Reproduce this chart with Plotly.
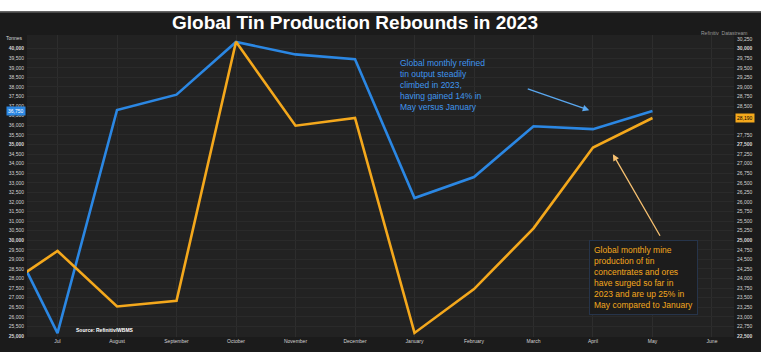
import plotly.graph_objects as go

# ---- data ----
months = ["Jun 2022", "Jul", "August", "September", "October", "November", "December",
          "January", "February", "March", "April", "May"]
tick_labels = ["Jul", "August", "September", "October", "November", "December",
               "January", "February", "March", "April", "May", "June"]
refined_output = [31400, 25150, 36800, 37600, 40350, 39700, 39450,
                  32200, 33300, 35950, 35800, 36750]
mine_output = [23670, 24720, 23270, 23420, 30180, 27990, 28190,
               22580, 23725, 25310, 27420, 28190]

W, H = 761, 352
L, R, T, B = 27, 745, 35, 344


def xp(px):
    return (px - L) / (R - L)


def yp(py):
    return (B - py) / (B - T)


x_idx = list(range(len(months)))
blue = "#2b87e3"
orange = "#f4a81c"

fig = go.Figure()
fig.add_trace(go.Scatter(x=x_idx, y=refined_output, mode="lines",
                         line=dict(color=blue, width=2.6), yaxis="y",
                         hoverinfo="skip", showlegend=False))
fig.add_trace(go.Scatter(x=x_idx, y=mine_output, mode="lines",
                         line=dict(color=orange, width=2.6), yaxis="y2",
                         hoverinfo="skip", showlegend=False))

left_vals = [v for v in range(25000, 40500, 500) if abs(v - refined_output[-1]) > 200]
left_text = [("<b>%s</b>" % f"{v:,}") if v % 5000 == 0 else f"{v:,}" for v in left_vals]
right_vals = [v for v in range(22500, 30500, 250) if abs(v - mine_output[-1]) > 200]
right_text = [("<b>%s</b>" % f"{v:,}") if v % 2500 == 0 else f"{v:,}" for v in right_vals]

tickfont = dict(family="Liberation Sans, Arial", size=5, color="#d4d4d4")

fig.update_layout(
    width=W, height=H, autosize=False,
    margin=dict(l=L, r=W - R, t=T, b=H - B, pad=0),
    paper_bgcolor="#1b1b1b",
    plot_bgcolor="#222222",
    xaxis=dict(range=[0.487, 12.37], tickvals=list(range(1, 13)), ticktext=tick_labels,
               tickfont=tickfont, showgrid=True, gridcolor="#2d2d2d", gridwidth=1,
               zeroline=False, showline=False, ticks="", ticklabelstandoff=0),
    yaxis=dict(range=[24949, 40714], tickvals=left_vals, ticktext=left_text,
               tickfont=tickfont, showgrid=True, gridcolor="#2a2a2a", gridwidth=1,
               zeroline=False, ticks="", ticklabelstandoff=2),
    yaxis2=dict(range=[22474, 30357], tickvals=right_vals, ticktext=right_text,
                tickfont=tickfont, overlaying="y", side="right", showgrid=False,
                zeroline=False, ticks="", ticklabelstandoff=2),
    shapes=[
        dict(type="rect", xref="paper", yref="paper", x0=-0.1, x1=1.1,
             y0=yp(11), y1=yp(-2), fillcolor="white", line=dict(width=0), layer="above"),
        dict(type="line", xref="paper", yref="paper", x0=-0.1, x1=1.1,
             y0=yp(11.5), y1=yp(11.5), line=dict(color="#5a5a5a", width=1.5)),
    ],
)

ann = []
ann.append(dict(text="<b>Global Tin Production Rebounds in 2023</b>", xref="paper", yref="paper",
                x=xp(360), y=yp(22), showarrow=False, xanchor="center", yanchor="middle",
                font=dict(family="Liberation Sans, Arial", size=19, color="white")))
ann.append(dict(text="Tonnes", xref="paper", yref="paper", x=xp(25), y=yp(38),
                showarrow=False, xanchor="right", yanchor="middle",
                font=dict(family="Liberation Sans, Arial", size=5, color="#d8d8d8")))
ann.append(dict(text="Refinitiv  Datastream", xref="paper", yref="paper", x=xp(760), y=yp(33),
                showarrow=False, xanchor="right", yanchor="middle",
                font=dict(family="Liberation Sans, Arial", size=5, color="#9a9a9a")))
ann.append(dict(text="<b>Source: Refinitiv/WBMS</b>", xref="paper", yref="paper",
                x=xp(75), y=yp(337), showarrow=False, xanchor="left", yanchor="middle",
                font=dict(family="Liberation Sans, Arial", size=5, color="white")))
ann.append(dict(text="Global monthly refined<br>tin output steadily<br>climbed in 2023,<br>"
                     "having gained 14% in<br>May versus January",
                xref="paper", yref="paper", x=xp(404), y=yp(56), showarrow=False,
                xanchor="left", yanchor="top", align="left",
                font=dict(family="Liberation Sans, Arial", size=8.5, color="#3f95ee")))
ann.append(dict(text="", xref="paper", yref="paper", x=xp(598), y=yp(112),
                ax=-63, ay=-22, showarrow=True, arrowhead=2, arrowsize=1, arrowwidth=1.3,
                arrowcolor="#5aa8f0"))
ann.append(dict(text="Global monthly mine<br>production of tin<br>concentrates and ores<br>"
                     "have surged so far in<br>2023 and are up 25% in<br>May compared to January",
                xref="paper", yref="paper", x=xp(598), y=yp(245), showarrow=False,
                xanchor="left", yanchor="top", align="left",
                bgcolor="#1c1c1c", bordercolor="#26344a", borderwidth=1, borderpad=4,
                font=dict(family="Liberation Sans, Arial", size=8.5, color="#f4a81c")))
ann.append(dict(text="", xref="paper", yref="paper", x=xp(622), y=yp(157),
                ax=48, ay=83, showarrow=True, arrowhead=2, arrowsize=1, arrowwidth=1.3,
                arrowcolor="#f6c070"))
# current value markers on axes
ann.append(dict(text=f"{refined_output[-1]:,}", xref="paper", y=refined_output[-1], yref="y",
                x=xp(L - 1), showarrow=False, xanchor="right", yanchor="middle",
                bgcolor=blue, font=dict(family="Liberation Sans, Arial", size=5, color="white")))
ann.append(dict(text=f"{mine_output[-1]:,}", xref="paper", y=mine_output[-1], yref="y2",
                x=xp(R + 1), showarrow=False, xanchor="left", yanchor="middle",
                bgcolor=orange, font=dict(family="Liberation Sans, Arial", size=5, color="black")))
fig.update_layout(annotations=ann)

fig.write_html("out.html")
